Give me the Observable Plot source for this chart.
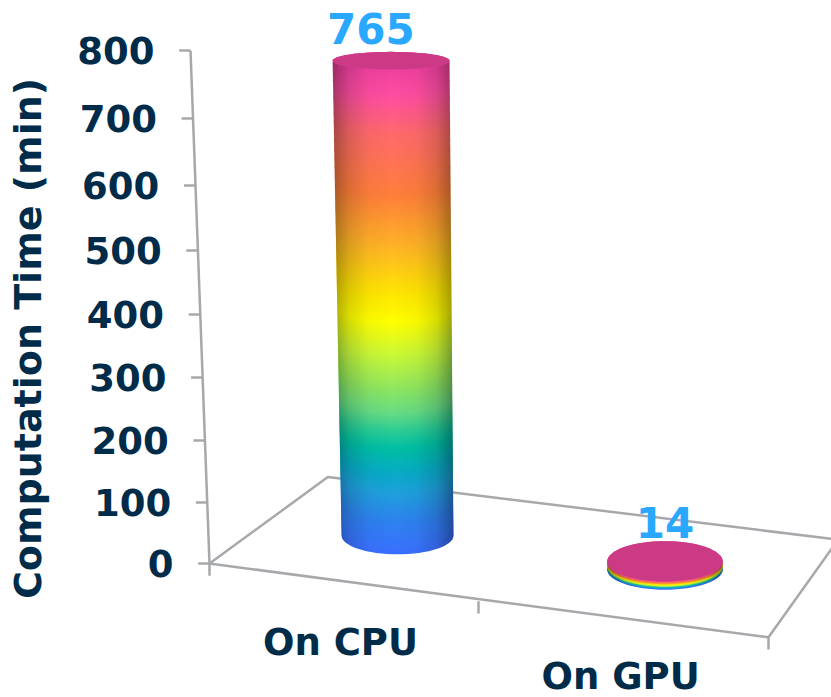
<!DOCTYPE html>
<html>
<head>
<meta charset="utf-8">
<style>
  html, body { margin: 0; padding: 0; background: #fff; }
  svg { display: block; }
</style>
<script src="https://cdn.jsdelivr.net/npm/d3@7"></script>
<script src="https://cdn.jsdelivr.net/npm/@observablehq/plot@0.6"></script>
</head>
<body>
<script>
// Values
const categories = ["On CPU", "On GPU"];
const minutes = [765, 14];
const yTicks = [0, 100, 200, 300, 400, 500, 600, 700, 800];
const yTitle = "Computation Time (min)";

// Palette
const navy = "#002b49";
const labelBlue = "#2aa8ff";
const frameGray = "#a6a8ab";
const capColor = "#cc3a85";
const rainbowAt = [0, 0.07, 0.13, 0.17, 0.225, 0.26, 0.30, 0.35, 0.42, 0.49, 0.545, 0.647, 0.75, 0.87, 0.945, 1];
const rainbow = ["#3a70ff", "#2e82ef", "#1fa0dc", "#08aac8", "#00bfa4", "#28cc96", "#66dc84", "#8ee660", "#c8f838",
  "#ffff00", "#ffe800", "#ffb326", "#ff7f3a", "#ff6a6a", "#ff4ea0", "#f040a0"];

// Scene layout, in scale units: x counts category slots along the front edge,
// y counts minutes on the back wall. Both scales are piecewise for the perspective.
const xSlots = [0, 1, 2];
const xPixels = [209, 478, 768];
const yPixels = [563, 502, 440, 377, 314, 250, 185, 118, 50];
const wallLean = -0.0706;
const wallAt = (v) => wallLean * (v / 800);
const floor = [[0, 0], [2, -121], [2.24, 39], [0.44, 141], [0, 0]];
const foreshorten = 0.966;
const shapes = [
  {base: 46, u0: 0.699, u1: 0.675, rx0: 0.208, rx1: 0.2175, ry0: 31, ry1: 13, n: 220, labelU: 0.6, labelDy: -17},
  {base: -10, u0: 1.643, u1: 1.643, rx0: 0.199, rx1: 0.199, ry0: 33, ry1: 33, n: 12, labelU: 1.643, labelDy: -23}
];

// One ellipse around a centre, as a run of scale-unit points
const ring = (cu, cv, rx, ry, from = 0, to = 2 * Math.PI, steps = 64) =>
  d3.range(steps + 1).map((i) => {
    const a = from + (to - from) * (i / steps);
    return {x: cu + rx * Math.cos(a), y: cv + ry * Math.sin(a)};
  });

const bars = categories.map((name, i) => {
  const s = shapes[i];
  const top = s.base + minutes[i] * foreshorten;
  const at = (t) => ({
    u: s.u0 + (s.u1 - s.u0) * t, v: s.base + (top - s.base) * t,
    rx: s.rx0 + (s.rx1 - s.rx0) * t, ry: s.ry0 + (s.ry1 - s.ry0) * t
  });
  // Stacked slices painted bottom to top, so the colour bands wrap round the cylinder
  const slices = d3.range(s.n + 1).flatMap((k) => {
    const t = k / s.n, c = at(t);
    return ring(c.u, c.v, c.rx, c.ry).map((p) => ({...p, level: i * 1000 + k, t}));
  });
  const b = at(0), c = at(1);
  // Silhouette used for the round shading: lower rim, then the upper rim back across
  const outline = [
    ...ring(b.u, b.v, b.rx, b.ry, Math.PI, 2 * Math.PI),
    ...ring(c.u, c.v, c.rx, c.ry, 2 * Math.PI, Math.PI)
  ];
  return {name, value: minutes[i], top, slices, outline, cap: ring(c.u, c.v, c.rx, c.ry), s};
});

const gradients = () => {
  const defs = d3.create("svg:defs");
  const g = defs.append("linearGradient").attr("id", "roundShade")
    .attr("x1", 0).attr("x2", 1).attr("y1", 0).attr("y2", 0);
  [[0, 0.36], [0.05, 0.27], [0.14, 0.14], [0.3, 0.03], [0.5, 0], [0.7, 0.03], [0.86, 0.14], [0.95, 0.29], [1, 0.38]]
    .forEach(([o, a]) => g.append("stop").attr("offset", o).attr("stop-color", "#000").attr("stop-opacity", a));
  return defs.node();
};

const chart = Plot.plot({
  width: 831,
  height: 697,
  margin: 0,
  style: {background: "#fff", overflow: "hidden"},
  x: {type: "linear", domain: xSlots, range: xPixels, axis: null},
  y: {type: "linear", domain: yTicks, range: yPixels, axis: null},
  color: {type: "linear", domain: rainbowAt, range: rainbow, interpolate: "rgb"},
  marks: [
    gradients,
    // Floor frame
    Plot.line(floor, {x: "0", y: "1", stroke: frameGray, strokeWidth: 2.5}),
    // Category ticks under the front edge
    Plot.link([[0, 0], [1, -62], [2, -121]], {
      x1: "0", x2: "0", y1: "1", y2: (d) => d[1] - 20, stroke: frameGray, strokeWidth: 2.5
    }),
    // Slanted value axis
    Plot.link([800], {x1: wallAt, y1: (d) => d, x2: 0, y2: 0, stroke: frameGray, strokeWidth: 2.5}),
    Plot.link(yTicks, {
      x1: (d) => wallAt(d) - 0.042, y1: (d) => d, x2: wallAt, y2: (d) => d, stroke: frameGray, strokeWidth: 2.5
    }),
    Plot.text(yTicks, {
      x: wallAt, y: (d) => d, text: (d) => String(d), dx: -36, dy: 2, textAnchor: "end",
      fontFamily: "DejaVu Sans", fontWeight: "bold", fontSize: 37, fill: navy
    }),
    Plot.text([yTitle], {
      x: -0.67, y: 362, text: (d) => d, rotate: -90,
      fontFamily: "DejaVu Sans", fontWeight: "bold", fontSize: 38, fill: navy
    }),
    // Category labels
    Plot.text(categories, {
      x: [0.487, 1.49], y: [-130, -186], text: (d) => d,
      fontFamily: "DejaVu Sans", fontWeight: "bold", fontSize: 37, fill: navy
    }),
    // Cylinders
    ...bars.flatMap((bar) => [
      Plot.line(bar.slices, {x: "x", y: "y", z: "level", fill: "t", stroke: "none"}),
      Plot.line(bar.outline, {x: "x", y: "y", fill: "url(#roundShade)", stroke: "none"}),
      Plot.line(bar.cap, {x: "x", y: "y", fill: capColor, stroke: "none"}),
      Plot.text([bar], {
        x: bar.s.labelU, y: bar.top, text: (d) => String(d.value), dy: bar.s.labelDy,
        lineAnchor: "bottom", fontFamily: "DejaVu Sans", fontWeight: "bold", fontSize: 42, fill: labelBlue
      })
    ])
  ]
});
document.body.appendChild(chart);
</script>
</body>
</html>
